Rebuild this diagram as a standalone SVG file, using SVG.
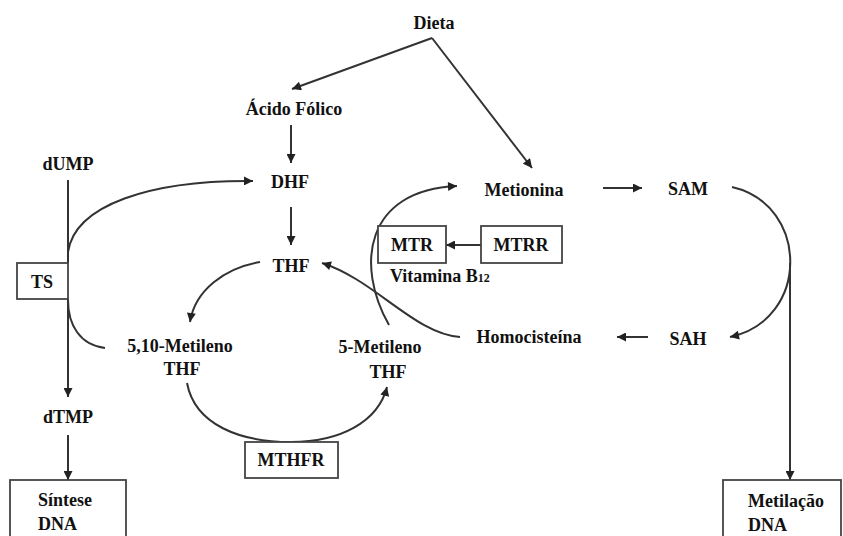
<svg xmlns="http://www.w3.org/2000/svg" width="843" height="536" viewBox="0 0 843 536" font-family="'Liberation Serif', serif">
<defs>
<marker id="ah" viewBox="0 0 10 10" refX="10" refY="5" markerWidth="11" markerHeight="9" markerUnits="userSpaceOnUse" orient="auto">
<path d="M0,0 L10,5 L0,10 z" fill="#222"/>
</marker>
<style>
text{font-family:'Liberation Serif',serif;font-weight:bold;font-size:18px;fill:#111}
.c{text-anchor:middle}
.box{fill:#fff;stroke:#444;stroke-width:1.8}
.ln{fill:none;stroke:#333;stroke-width:2}
.ar{marker-end:url(#ah)}
.sub{font-size:12px}
</style>
</defs>
<rect width="843" height="536" fill="#fff"/>
<g id="connectors">
<path class="ln ar" d="M432,38 L292,89"/>
<path class="ln ar" d="M432,38 L532,168"/>
<path class="ln ar" d="M291,125 L291,163"/>
<path class="ln ar" d="M291,207 L291,245"/>
<path class="ln" d="M68,180 L68,263"/>
<path class="ln ar" d="M68,299 L68,397"/>
<path class="ln ar" d="M68,252 C75,205 150,180 253,181"/>
<path class="ln" d="M68,300 C68,325 80,345 105,348"/>
<path class="ln ar" d="M68,435 L68,480"/>
<path class="ln ar" d="M260,262 C225,268 195,290 190,322"/>
<path class="ln" d="M187,383 C195,425 240,442 291,442"/>
<path class="ln ar" d="M291,442 C340,442 378,422 387,387"/>
<path class="ln ar" d="M389,325 C355,265 365,190 457,186"/>
<path class="ln ar" d="M460,337 C415,334 375,280 322,263"/>
<path class="ln ar" d="M481,245 L446,245"/>
<path class="ln ar" d="M603,188 L642,188"/>
<path class="ln ar" d="M732,187 C810,205 810,320 730,337"/>
<path class="ln ar" d="M648,337 L617,337"/>
<path class="ln ar" d="M790,263 L790,480"/>
</g>
<g id="dieta"><text class="c" x="434" y="29">Dieta</text></g>
<g id="acido-folico"><text class="c" x="294" y="115">Ácido Fólico</text></g>
<g id="dhf"><text class="c" x="290" y="188">DHF</text></g>
<g id="thf"><text class="c" x="291" y="272">THF</text></g>
<g id="dump"><text class="c" x="68" y="170">dUMP</text></g>
<g id="ts"><rect class="box" x="17" y="263" width="51" height="36"/><text class="c" x="42" y="288">TS</text></g>
<g id="dtmp"><text class="c" x="68" y="423">dTMP</text></g>
<g id="sintese"><rect class="box" x="10" y="480" width="116" height="60"/><text x="38" y="506">Síntese</text><text x="38" y="530">DNA</text></g>
<g id="metileno510"><text class="c" x="180" y="352">5,10-Metileno</text><text class="c" x="182" y="375">THF</text></g>
<g id="metileno5"><text class="c" x="380" y="353">5-Metileno</text><text class="c" x="388" y="378">THF</text></g>
<g id="mthfr"><rect class="box" x="245" y="442" width="93" height="36"/><text class="c" x="291" y="466">MTHFR</text></g>
<g id="metionina"><text class="c" x="524" y="196">Metionina</text></g>
<g id="mtr"><rect class="box" x="378" y="226" width="68" height="37"/><text class="c" x="412" y="251">MTR</text></g>
<g id="mtrr"><rect class="box" x="481" y="226" width="81" height="37"/><text class="c" x="521" y="251">MTRR</text></g>
<g id="vitamina-b12"><text x="390" y="282">Vitamina B<tspan class="sub">12</tspan></text></g>
<g id="homocisteina"><text class="c" x="529" y="343">Homocisteína</text></g>
<g id="sam"><text class="c" x="688" y="195">SAM</text></g>
<g id="sah"><text class="c" x="688" y="345">SAH</text></g>
<g id="metilacao"><rect class="box" x="723" y="480" width="118" height="60"/><text x="748" y="507">Metilação</text><text x="748" y="531">DNA</text></g>
</svg>
